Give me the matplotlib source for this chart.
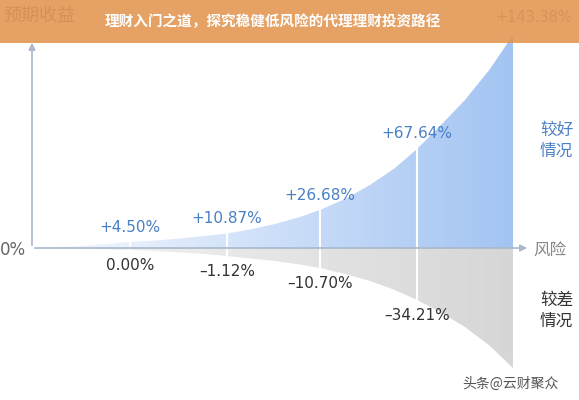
import matplotlib.pyplot as plt
import numpy as np
from matplotlib.patches import Polygon, Rectangle

plt.rcParams["font.family"] = ["Noto Sans CJK SC", "DejaVu Sans"]

# curve outline in pixel units
xs = [35, 60, 85, 110, 130, 155, 180, 205, 227, 250, 275, 300, 320,
      345, 370, 395, 417, 440, 465, 490, 513]
upper_y = [247.5, 246.8, 245.8, 243.8, 242, 240.5, 238.5, 236, 233.5, 229.5, 224, 217, 210,
           199, 185, 168, 149, 126, 100, 69, 35]
lower_y = [248.3, 248.6, 249, 249.5, 250, 251, 252.5, 254, 256, 258.5, 261, 264.5, 268,
           274, 281, 290, 300, 312, 327, 346, 368]

marks_x = [130, 227, 320, 417]
marks_up = [242, 233.5, 210, 149]
marks_lo = [250, 256, 268, 300]
good_labels = ["+4.50%", "+10.87%", "+26.68%", "+67.64%"]
bad_labels = ["0.00%", "\u20131.12%", "\u201310.70%", "\u201334.21%"]

W, H = 579, 400
fig = plt.figure(figsize=(W / 100, H / 100), dpi=100)
ax = fig.add_axes([0, 0, 1, 1])
ax.set_xlim(0, W)
ax.set_ylim(H, 0)
ax.axis("off")


def gradient_fill(pts, c0, c1, y0, y1):
    poly = Polygon(pts, closed=True, facecolor="none", edgecolor="none")
    ax.add_patch(poly)
    g = np.linspace(0, 1, 256)[None, :, None]
    img = np.array(c0)[None, None, :] * (1 - g) + np.array(c1)[None, None, :] * g
    im = ax.imshow(img, extent=[xs[0], xs[-1], y1, y0], aspect="auto", zorder=1)
    im.set_clip_path(poly)


up_pts = list(zip(xs, upper_y)) + [(xs[-1], 248), (xs[0], 248)]
lo_pts = list(zip(xs, lower_y)) + [(xs[-1], 248), (xs[0], 248)]
gradient_fill(up_pts, (0.97, 0.98, 1.0), (0.64, 0.77, 0.95), 30, 248)
gradient_fill(lo_pts, (0.96, 0.96, 0.96), (0.84, 0.84, 0.84), 248, 370)

for x, yu, yl in zip(marks_x, marks_up, marks_lo):
    ax.plot([x, x], [yu, yl], color="white", lw=1.5, zorder=2)

# axes
ax.annotate("", xy=(32, 40), xytext=(32, 248),
            arrowprops=dict(arrowstyle="-|>", color="#a9b8cc", lw=1.2), zorder=3)
ax.annotate("", xy=(530, 248), xytext=(32, 248),
            arrowprops=dict(arrowstyle="-|>", color="#a9b8cc", lw=1.2), zorder=3)

blue = "#4a80c4"
for x, yu, t in zip(marks_x, marks_up, good_labels):
    ax.text(x, yu - 15, t, color=blue, fontsize=11, ha="center", va="center",
            family="DejaVu Sans", zorder=4)
for x, yl, t in zip(marks_x, marks_lo, bad_labels):
    ax.text(x, yl + 16, t, color="#333333", fontsize=11, ha="center", va="center",
            family="DejaVu Sans", zorder=4)

ax.text(0, 250, "0%", color="#666666", fontsize=12, ha="left", va="center", family="DejaVu Sans")
ax.text(533, 250, "风险", color="#888888", fontsize=12, ha="left", va="center")
ax.text(540, 141, "较好\n情况", color=blue, fontsize=12, ha="left", va="center", linespacing=1.3)
ax.text(540, 311, "较差\n情况", color="#333333", fontsize=12, ha="left", va="center", linespacing=1.3)
ax.text(3, 16, "预期收益", color="#777777", fontsize=13, ha="left", va="center")
ax.text(572, 17, "+143.38%", color="#888888", fontsize=10.5, ha="right", va="center",
        family="DejaVu Sans")
ax.text(510, 384, "头条@云财聚众", color="#555555", fontsize=10, ha="center", va="center")

ax.add_patch(Rectangle((0, 0), W, 43, facecolor="#e39550", alpha=0.88, edgecolor="none", zorder=5))
ax.text(105, 21, "理财入门之道，探究稳健低风险的代理理财投资路径", color="white",
        fontsize=10.5, fontweight="bold", ha="left", va="center", zorder=6)

fig.savefig("out.png", dpi=100)
